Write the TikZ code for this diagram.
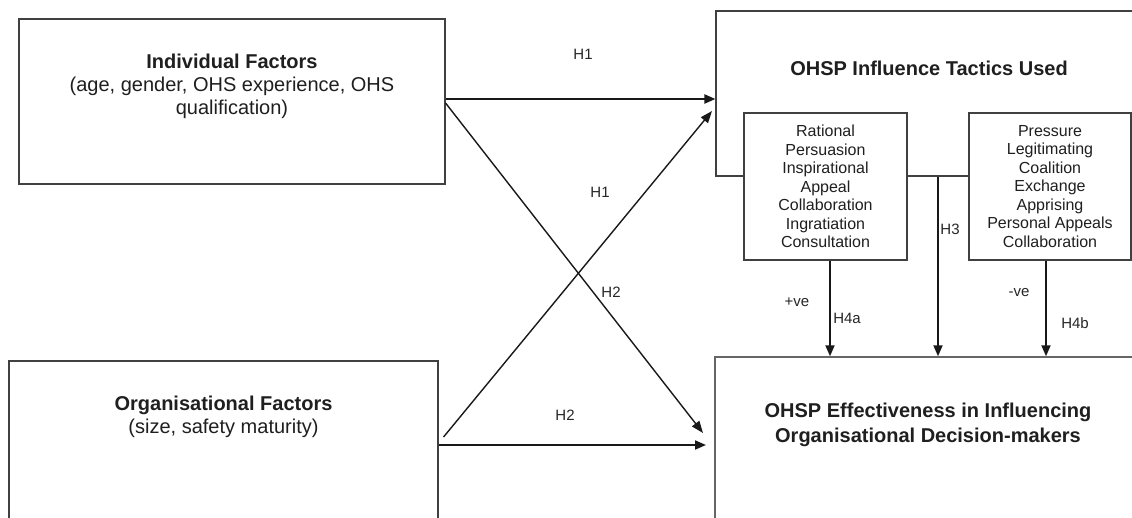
\documentclass[tikz,border=0pt]{standalone}
\usepackage{fontspec}
\setmainfont{Liberation Sans}
\usetikzlibrary{arrows.meta,calc}
\begin{document}
\begin{tikzpicture}[x=1pt,y=-1pt,
  box/.style={draw=black!75, line width=1.1pt, fill=white, inner sep=0pt},
  arr/.style={draw=black!90, line width=1.9pt, -{Triangle[length=11pt,width=9pt]}},
  diag/.style={draw=black!90, line width=1.4pt, -{Triangle[length=12pt,width=9pt]}},
  lab/.style={font=\fontsize{15}{18}\selectfont, text=black!85, inner sep=0pt},
  bigtxt/.style={font=\fontsize{20}{23}\selectfont, text=black!88, align=center, inner sep=0pt},
  smalltxt/.style={font=\fontsize{16}{18.5}\selectfont, text=black!88, align=center, inner sep=0pt}
]
\useasboundingbox (0,0) rectangle (1132,517);
\clip (0,0) rectangle (1132,517);
\fill[white] (0,0) rectangle (1132,517);
% boxes
\node[box, minimum width=426pt, minimum height=165pt] (ind) at (232,101.5) {};
\node[box, minimum width=429pt, minimum height=164pt] (org) at (223.5,443) {};
\node[box, minimum width=424pt, minimum height=165pt] (tac) at (928,93.5) {};
\node[box, minimum width=163pt, minimum height=147pt] (tl) at (825.5,186.5) {};
\node[box, minimum width=162pt, minimum height=147pt] (tr) at (1050,186.5) {};
\node[box, draw=black!60, line width=1.4pt, minimum width=425pt, minimum height=168pt] (eff) at (927.5,441) {};
% texts
\node[bigtxt] (indt) at (232,86) {\textbf{Individual Factors}\\(age, gender, OHS experience, OHS\\qualification)};
\node[bigtxt] (orgt) at (223.5,416.5) {\textbf{Organisational Factors}\\(size, safety maturity)};
\node[bigtxt] (tact) at (929,68) {\textbf{OHSP Influence Tactics Used}};
\node[smalltxt] (tlt) at (825.5,186.5) {Rational\\Persuasion\\Inspirational\\Appeal\\Collaboration\\Ingratiation\\Consultation};
\node[smalltxt] (trt) at (1050,186.5) {Pressure\\Legitimating\\Coalition\\Exchange\\Apprising\\Personal Appeals\\Collaboration};
\node[bigtxt, font=\bfseries\fontsize{20}{25}\selectfont] (efft) at (928,424.5) {OHSP Effectiveness in Influencing\\Organisational Decision-makers};
% connectors
\draw[arr] (ind.east |- 0,99) -- (tac.west |- 0,99);
\draw[diag] (ind.east |- 0,103) -- (703,433) coordinate (d1end);
\draw[diag] (org.east |- 0,437) ++(5,0) -- (712,111) coordinate (d2end);
\draw[arr] (org.east |- 0,445) -- (706,445) coordinate (h2end);
\draw[arr] (tl.south -| 830,0) -- (eff.north -| 830,0);
\draw[arr] (tac.south -| 938,0) -- (eff.north -| 938,0);
\draw[arr] (tr.south -| 1046,0) -- (eff.north -| 1046,0);
% labels
\node[lab] (l1) at (583,54) {H1};
\node[lab] (l2) at (600,192) {H1};
\node[lab] (l3) at (611,292) {H2};
\node[lab] (l4) at (565,415) {H2};
\node[lab] (l5) at (950,229) {H3};
\node[lab] (l6) at (797,302) {+ve};
\node[lab] (l7) at (847,318) {H4a};
\node[lab] (l8) at (1019,293) {-ve};
\node[lab] (l9) at (1075,323) {H4b};
\end{tikzpicture}
\end{document}
